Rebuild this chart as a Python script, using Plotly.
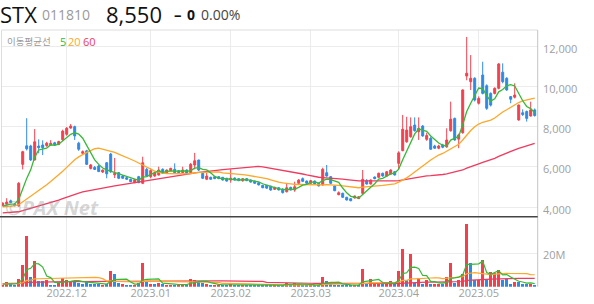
import plotly.graph_objects as go
import pandas as pd

# ---------------- data ----------------
month_ticks = [16, 37, 57, 77, 99, 119]
month_labels = ["2022.12", "2023.01", "2023.02", "2023.03", "2023.04", "2023.05"]
price_ticks = [4000, 6000, 8000, 10000, 12000]
price_labels = ["4,000", "6,000", "8,000", "10,000", "12,000"]
vol_ticks = [20e6]
vol_labels = ["20M"]

# closes/volumes before the visible window (needed for moving averages)
prior_close = [3650, 3620, 3600, 3580, 3610, 3590, 3560, 3540, 3520, 3500,
               3480, 3450, 3430, 3460, 3490, 3470, 3440, 3420, 3450, 3480,
               3510, 3540, 3530, 3560, 3590, 3570, 3600, 3620, 3640, 3610,
               3590, 3620, 3650, 3680, 3700, 3690, 3720, 3740, 3760, 3780,
               3820, 3850, 3900, 3950, 4000, 3980, 4050, 4100, 4080, 4150,
               4120, 4060, 4000, 3980, 4030, 4000, 3990, 4030, 4050]
prior_vol = [2.2, 1.8, 2.0, 1.6, 2.4, 1.9, 1.7, 2.1, 1.8, 1.5,
             2.0, 2.3, 1.9, 1.6, 1.8, 2.2, 2.0, 1.7, 1.9, 2.1,
             2.4, 1.8, 1.6, 2.0, 2.2, 1.9, 1.7, 2.5, 2.1, 1.8,
             2.0, 1.6, 1.9, 2.3, 2.0, 1.7, 2.2, 1.8, 2.1, 2.4,
             1.9, 2.0, 2.6, 2.2, 1.8, 1.6, 2.0, 1.7, 1.5, 1.8,
             1.6, 1.4, 1.5, 1.7, 1.3, 1.6, 1.4, 1.8, 1.5]

opens = [4100, 4150, 4320, 4150, 4060, 6130, 7050, 7040, 6350, 7040,
         7090, 7060, 7100, 7200, 7120, 7350, 7620, 7930, 8000, 7180,
         6680, 6800, 5930, 5980, 6050, 5750, 6210, 6640, 5610, 5720,
         5550, 5470, 5390, 5220, 5520, 5190, 5885, 5520, 5550, 5600,
         5885, 5716, 5816, 5885, 5816, 5716, 5850, 5716, 6098, 6345,
         5686, 5390, 5488, 5518, 5518, 5488, 5440, 5354, 5450, 5420,
         5320, 5420, 5354, 5300, 5220, 5090, 5090, 5050, 4890, 4970,
         4900, 4770, 4990, 4860, 5190, 5420, 5300, 5190, 5300, 5190,
         5110, 5716, 5518, 5056, 4625, 4694, 4496, 4427, 4460, 4430,
         4690, 5320, 5156, 5500, 5488, 5686, 5552, 5650, 5766, 6180,
         6810, 7250, 7500, 8080, 7750, 8030, 7370, 7420, 7040, 6930,
         7090, 7000, 7800, 8410, 7380, 7700, 10510, 10230, 10400, 9160,
         10560, 10030, 9650, 9650, 9900, 10700, 10400, 9490, 9460, 8330,
         8690, 8750, 8530, 8830]
highs = [4250, 4450, 4380, 4200, 5250, 6800, 8420, 7100, 7880, 7370,
         7320, 7250, 7330, 7250, 7300, 7850, 7980, 8130, 8050, 7250,
         6820, 6850, 6150, 6050, 6100, 5870, 6250, 6700, 6450, 5750,
         5600, 5500, 5420, 5400, 5560, 6510, 5950, 5930, 5780, 6015,
         5930, 5870, 5960, 6180, 5850, 6015, 5880, 6200, 6700, 6360,
         5720, 5716, 5520, 5550, 5540, 5500, 5460, 5885, 5480, 5440,
         5440, 5450, 5380, 5320, 5240, 5110, 5100, 5060, 5020, 5000,
         4950, 5190, 5020, 5270, 5400, 5480, 5330, 5360, 5330, 5210,
         5964, 6098, 5550, 5080, 4790, 4724, 4520, 4450, 4580, 4540,
         5850, 5400, 5380, 5530, 5720, 5720, 5790, 5880, 5800, 6780,
         8580, 8490, 8460, 8460, 8460, 8080, 7700, 7500, 7100, 7100,
         7150, 7920, 9240, 8450, 7650, 9850, 12450, 11550, 10450, 9500,
         11220, 10100, 9700, 9950, 11150, 11140, 10450, 9500, 10150, 9100,
         8860, 8800, 9240, 8900]
lows = [4050, 4100, 4200, 4050, 4040, 5880, 6820, 6300, 6320, 6680,
        6590, 7000, 7050, 7050, 7080, 7300, 7550, 7900, 7340, 6800,
        6600, 6100, 5880, 5850, 5750, 5700, 5440, 5700, 5450, 5400,
        5420, 5360, 5250, 5200, 5200, 5150, 5500, 5440, 5520, 5580,
        5650, 5700, 5800, 5680, 5690, 5700, 5650, 5680, 5885, 5800,
        5400, 5350, 5370, 5400, 5400, 5330, 5280, 5220, 5330, 5300,
        5270, 5300, 5230, 5170, 5090, 4950, 4930, 4820, 4870, 4840,
        4680, 4740, 4840, 4770, 5150, 5250, 5160, 5170, 5130, 5040,
        5080, 5520, 5150, 4800, 4600, 4470, 4340, 4300, 4440, 4410,
        4650, 5130, 5130, 5390, 5460, 5520, 5530, 5620, 5580, 5900,
        6780, 7200, 7450, 7750, 7340, 7500, 7300, 6850, 6900, 6880,
        6930, 6950, 7750, 7300, 6930, 7650, 10300, 9820, 9250, 9100,
        9600, 8830, 9000, 9600, 9850, 10150, 9780, 9160, 9400, 8300,
        8530, 8250, 8500, 8500]
closes = [4200, 4260, 4240, 4080, 5190, 6760, 6900, 6350, 7250, 6960,
          6950, 7180, 7170, 7100, 7260, 7780, 7920, 8030, 7540, 6880,
          6760, 6130, 6100, 5880, 5770, 5850, 5660, 5770, 5680, 5440,
          5440, 5390, 5270, 5370, 5220, 6210, 5550, 5820, 5720, 5850,
          5690, 5850, 5930, 5716, 5716, 5850, 5686, 6130, 6310, 5850,
          5440, 5552, 5390, 5420, 5420, 5354, 5300, 5440, 5354, 5320,
          5420, 5320, 5250, 5190, 5110, 4970, 4950, 4860, 4990, 4860,
          4730, 4970, 4860, 5020, 5350, 5290, 5190, 5320, 5160, 5060,
          5885, 5552, 5190, 4823, 4724, 4496, 4362, 4327, 4560, 4526,
          5389, 5156, 5354, 5420, 5686, 5552, 5766, 5850, 5602, 6700,
          7870, 7830, 8000, 7800, 7920, 7540, 7560, 6880, 6930, 7040,
          6980, 7340, 8370, 7340, 7590, 9820, 10650, 10400, 9320, 9400,
          9650, 8910, 9070, 9900, 11110, 10230, 9820, 9360, 9570, 9070,
          8600, 8410, 8830, 8550]
volumes_m = [1.0, 3.0, 1.6, 1.0, 4.6, 13.0, 30.4, 6.0, 15.4, 3.4,
             3.4, 4.0, 1.0, 1.3, 2.4, 5.2, 4.0, 3.0, 3.4, 2.6,
             2.0, 3.0, 1.8, 1.6, 1.6, 1.2, 1.5, 9.4, 7.6, 2.4,
             2.0, 1.0, 1.2, 1.4, 2.2, 14.4, 3.0, 2.0, 1.6, 2.4,
             1.6, 1.4, 1.2, 1.4, 1.0, 1.6, 1.2, 5.0, 4.2, 3.2,
             2.2, 1.6, 1.2, 1.0, 1.0, 1.0, 0.9, 2.0, 1.0, 0.8,
             1.0, 0.8, 0.8, 0.8, 0.8, 1.0, 0.8, 1.2, 0.8, 0.8,
             1.4, 2.5, 1.0, 2.2, 1.6, 1.2, 1.0, 0.8, 1.0, 0.8,
             6.0, 3.4, 1.6, 1.4, 1.0, 1.2, 1.0, 1.0, 0.8, 1.0,
             10.6, 2.4, 4.6, 1.6, 2.4, 1.6, 2.0, 3.4, 1.6, 9.4,
             23.0, 4.2, 19.6, 2.4, 5.4, 2.0, 4.0, 2.0, 1.6, 1.6,
             1.6, 6.0, 14.4, 2.6, 4.0, 8.0, 38.0, 14.4, 4.0, 4.0,
             16.0, 4.0, 8.8, 8.4, 10.4, 4.0, 4.8, 1.6, 3.0, 3.0,
             1.6, 1.6, 2.0, 1.2]

# ---------------- styling ----------------
RED = "#f2404f"
BLUE = "#2f8ae5"
C5 = "#36b936"
C20 = "#ffa726"
C60 = "#f03a5f"
GRID = "#ececec"
LABEL = "#a0a0a0"
FONT = "Open Sans"
KFONT = "Noto Sans CJK KR"

n = len(closes)
idx = list(range(n))
W, H = 594, 304

all_close = pd.Series(prior_close + closes, dtype=float)
all_vol = pd.Series([v * 1e6 for v in prior_vol + volumes_m])
k = len(prior_close)
ma = {p: all_close.rolling(p).mean().iloc[k:].tolist() for p in (5, 20, 60)}
vma = {p: all_vol.rolling(p).mean().iloc[k:].tolist() for p in (5, 20, 60)}
vols = [v * 1e6 for v in volumes_m]
prev = [prior_close[-1]] + closes[:-1]
vcolors = [RED if c >= p else BLUE for c, p in zip(closes, prev)]

fig = go.Figure()
fig.add_trace(go.Candlestick(
    x=idx, open=opens, high=highs, low=lows, close=closes,
    increasing=dict(line=dict(color=RED, width=1), fillcolor=RED),
    decreasing=dict(line=dict(color=BLUE, width=1), fillcolor=BLUE),
    whiskerwidth=0, hoverinfo="skip", xaxis="x", yaxis="y"))
for p, col in ((60, C60), (20, C20), (5, C5)):
    fig.add_trace(go.Scatter(x=idx, y=ma[p], mode="lines",
                             line=dict(color=col, width=1.3),
                             hoverinfo="skip", xaxis="x", yaxis="y"))
fig.add_trace(go.Bar(x=idx, y=vols, marker=dict(color=vcolors, line=dict(width=0)),
                     width=0.7, hoverinfo="skip", xaxis="x2", yaxis="y2"))
for p, col in ((60, C60), (20, C20), (5, C5)):
    fig.add_trace(go.Scatter(x=idx, y=vma[p], mode="lines",
                             line=dict(color=col, width=1.2),
                             hoverinfo="skip", xaxis="x2", yaxis="y2"))

x0, x1 = 2 / W, 537.7 / W
top_p, sep, bot_v = 30, 216.7, 286.7
xr = [-0.175, 133.75]

fig.update_layout(
    width=W, height=H, margin=dict(l=0, r=0, t=0, b=0),
    paper_bgcolor="white", plot_bgcolor="white", showlegend=False,
    font=dict(family=FONT, color=LABEL, size=11),
    xaxis=dict(domain=[x0, x1], range=xr, anchor="y", rangeslider=dict(visible=False),
               tickvals=month_ticks, showticklabels=False, showgrid=True,
               gridcolor=GRID, gridwidth=1, zeroline=False, ticks=""),
    xaxis2=dict(domain=[x0, x1], range=xr, anchor="y2", matches="x",
                tickvals=month_ticks, ticktext=month_labels, showgrid=True,
                gridcolor=GRID, gridwidth=1, zeroline=False, ticks="",
                ticklabelstandoff=-2, tickfont=dict(size=11, color=LABEL, family=FONT)),
    yaxis=dict(domain=[1 - sep / H, 1 - top_p / H], range=[3534, 12794], side="right",
               tickvals=price_ticks, showticklabels=False, showgrid=True, gridcolor=GRID,
               zeroline=False, ticks=""),
    yaxis2=dict(domain=[1 - bot_v / H, 1 - sep / H], range=[0, 41.9e6], side="right",
                tickvals=vol_ticks, showticklabels=False, showgrid=True, gridcolor=GRID,
                zeroline=False, ticks=""),
    bargap=0,
)

shapes = [
    dict(type="line", xref="paper", yref="paper", x0=1.5 / W, x1=x1, y0=1 - top_p / H, y1=1 - top_p / H,
         line=dict(color="#dddddd", width=1)),
    dict(type="line", xref="paper", yref="paper", x0=1.5 / W, x1=1.5 / W, y0=1 - bot_v / H, y1=1 - top_p / H,
         line=dict(color="#dddddd", width=1)),
    dict(type="line", xref="paper", yref="paper", x0=x1, x1=x1, y0=1 - bot_v / H, y1=1 - top_p / H,
         line=dict(color="#c4c4c4", width=1)),
    dict(type="line", xref="paper", yref="paper", x0=0, x1=x1, y0=1 - sep / H, y1=1 - sep / H,
         line=dict(color="#444444", width=1.5)),
]
fig.update_layout(shapes=shapes)

# axis labels (right side), slightly below their grid lines as in the original
for v, t in zip(price_ticks, price_labels):
    fig.add_annotation(text=t, x=541 / W, xref="paper", y=v, yref="y", yshift=-2,
                       xanchor="left", yanchor="middle", showarrow=False,
                       font=dict(size=11, color=LABEL, family=FONT))
for v, t in zip(vol_ticks, vol_labels):
    fig.add_annotation(text=t, x=541 / W, xref="paper", y=v, yref="y2", yshift=-1,
                       xanchor="left", yanchor="middle", showarrow=False,
                       font=dict(size=11, color=LABEL, family=FONT))

def ann(text, x, y, size, color, family=FONT):
    fig.add_annotation(text=text, x=x / W, y=1 - y / H, xref="paper", yref="paper",
                       xanchor="left", yanchor="middle", showarrow=False, borderpad=0,
                       font=dict(size=size, color=color, family=family))

ann("STX", -1, 14, 22, "#111111")
ann("011810", 41, 15, 14, "#9a9a9a")
ann("8,550", 105, 14, 22, "#111111")
ann("<b>–</b>", 173, 14, 15, "#111111")
ann("<b>0</b>", 186, 15, 14, "#111111")
ann("0.00%", 200, 15, 14, "#444444")
ann("이동평균선", 6, 41, 9.5, "#999999", KFONT)
ann("5", 59, 41, 11, C5)
ann("20", 67, 41, 11, C20)
ann("60", 82, 41, 11, C60)
ann("<b><i>©PAX Net</i></b>", 4, 207, 20, "rgba(150,150,150,0.4)")

fig.write_html("out.html")
